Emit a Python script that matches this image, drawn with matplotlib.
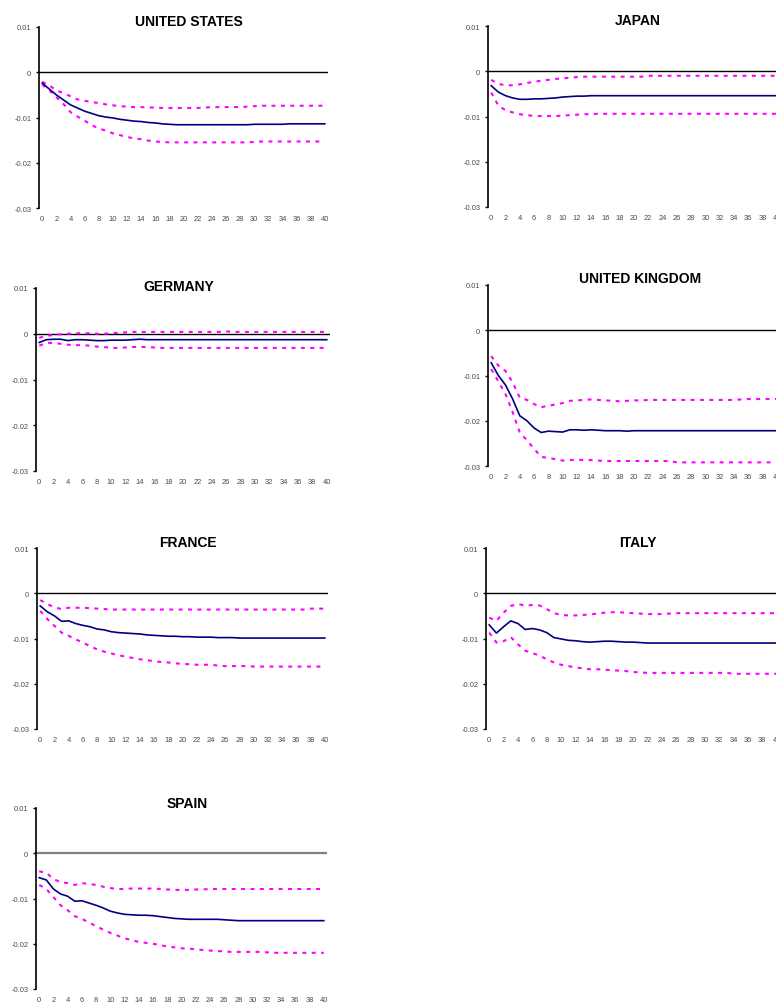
import matplotlib
matplotlib.use("Agg")
import matplotlib.pyplot as plt
import numpy as np

# impulse responses, in units of 0.0001, horizons 0..40
horizon = list(range(41))

us_mid = [-24, -37, -50, -61, -72, -79, -86, -91, -96, -99,
          -101, -104, -106, -108, -109, -111, -112, -114, -115, -116] + [-116] * 10 + \
         [-115] * 5 + [-114] * 6
us_hi = [-21, -29, -40, -46, -53, -60, -63, -66, -68, -71,
         -73, -75, -76, -77, -77, -78, -78, -79, -79, -79,
         -79, -79, -79, -78, -77, -77, -77, -77, -77, -76] + [-75] + [-74] * 10
us_lo = [-27, -40, -55, -70, -88, -98, -107, -117, -124, -129,
         -135, -139, -143, -146, -148, -151, -153, -154, -155, -155] + [-155] * 10 + \
        [-154] + [-153] * 10

jp_mid = [-32, -46, -54, -59, -62, -62, -61, -61, -60, -59,
          -57, -56, -55, -55, -54] + [-54] * 26
jp_hi = [-19, -28, -31, -31, -29, -26, -23, -21, -19, -17,
         -16, -14, -13, -12, -12, -12, -12, -12, -12, -12,
         -12, -12] + [-10] * 19
jp_lo = [-47, -76, -86, -91, -95, -97, -99, -99, -99, -99,
         -98, -97, -96, -95, -95] + [-94] * 26

de_mid = [-19, -13, -12, -12, -15, -13, -13, -14, -15, -15,
          -14, -14, -14, -13, -12] + [-13] * 26
de_hi = [-9, -4, -3, -1, 0, 1, 1, 1, 0, 0,
         1, 2, 3, 4] + [4] * 12 + [5] + [4] * 14
de_lo = [-26, -20, -20, -22, -24, -25, -25, -26, -28, -29,
         -31, -31, -30, -29, -29, -29, -30] + [-31] * 24

uk_mid = [-72, -100, -121, -152, -189, -200, -216, -226, -223, -224,
          -225, -220, -220, -221, -220, -221, -222, -222, -222, -223,
          -222] + [-222] * 20
uk_hi = [-57, -78, -90, -115, -149, -154, -163, -170, -167, -164,
         -161, -156, -155, -154, -153, -154, -155, -156, -157, -156,
         -155, -155] + [-154] * 13 + [-153] + [-152] * 5
uk_lo = [-86, -113, -141, -181, -226, -243, -262, -280, -282, -285,
         -288, -287, -286, -287, -287, -288] + [-289] * 10 + [-292] * 15

fr_mid = [-28, -41, -50, -62, -61, -67, -71, -74, -79, -81,
          -85, -87, -88, -89, -90, -92, -93, -94, -95, -95,
          -96, -96, -97, -97, -97, -98, -98, -98, -99, -99] + [-99] * 11
fr_hi = [-15, -24, -31, -35, -32, -32, -32, -33, -34, -35] + [-36] * 28 + [-34] * 3
fr_lo = [-39, -57, -72, -87, -94, -102, -109, -117, -124, -129,
         -133, -137, -140, -143, -146, -148, -150, -152, -153, -155,
         -156, -157, -158, -158, -158, -160, -161, -161, -161, -161] + [-162] * 11

it_mid = [-70, -88, -74, -61, -67, -80, -78, -81, -87, -98,
          -101, -104, -105, -107, -108, -107, -106, -106, -107, -108,
          -108, -109, -110, -110, -110] + [-110] * 16
it_hi = [-54, -61, -43, -28, -24, -27, -26, -27, -35, -44,
         -48, -49, -49, -48, -47, -45, -43, -42, -42, -43,
         -44, -45, -46, -46, -46, -45, -44] + [-44] * 14
it_lo = [-87, -109, -106, -97, -113, -127, -132, -138, -146, -153,
         -158, -161, -164, -166, -168, -168, -169, -170, -171, -172,
         -174, -175, -176, -176, -176] + [-176] * 9 + [-178] * 7

es_mid = [-54, -59, -79, -90, -95, -106, -105, -110, -115, -121,
          -128, -132, -135, -136, -137, -137, -138, -140, -142, -144,
          -145, -146, -146, -146, -146, -146, -147, -148, -149] + [-149] * 12
es_hi = [-40, -43, -57, -64, -66, -70, -66, -68, -70, -74,
         -77, -79, -79, -78, -78, -78, -78, -79, -80, -81,
         -81, -81, -80, -80] + [-79] * 17
es_lo = [-70, -79, -97, -115, -126, -139, -145, -153, -161, -169,
         -176, -182, -188, -192, -196, -198, -200, -203, -206, -208,
         -210, -211, -212, -214, -215, -216, -217, -218, -218, -218,
         -218, -218, -219, -220, -220] + [-220] * 6

countries = ["UNITED STATES", "JAPAN", "GERMANY", "UNITED KINGDOM",
             "FRANCE", "ITALY", "SPAIN"]
series = [(us_mid, us_hi, us_lo), (jp_mid, jp_hi, jp_lo), (de_mid, de_hi, de_lo),
          (uk_mid, uk_hi, uk_lo), (fr_mid, fr_hi, fr_lo), (it_mid, it_hi, it_lo),
          (es_mid, es_hi, es_lo)]
yticks = [0.01, 0, -0.01, -0.02, -0.03]
ytick_labels = ["0.01", "0", "-0.01", "-0.02", "-0.03"]
xticks = list(range(0, 41, 2))

W, H = 776, 1004
# plot boxes in pixels: left, top, width, height
boxes = [(39, 28, 289, 181), (488, 27, 292, 181), (36, 289, 294, 183),
         (488, 286, 292, 181), (37, 549, 291, 181), (486, 549, 294, 181),
         (36, 809, 291, 181)]
title_x = [0.52, 0.514, 0.485, 0.52, 0.52, 0.517, 0.52]
title_dy = [6, 6, 2, 7, 6, 6, 5]
zero_style = [("black", 1.0)] * 6 + [("#808080", 1.6)]

plt.rcParams['font.family'] = ['Liberation Sans', 'DejaVu Sans']

fig = plt.figure(figsize=(W / 100, H / 100), dpi=100)
fig.patch.set_facecolor("white")

for name, (mid, hi, lo), (l, t, w, h), tx, tdy, (zc, zw) in zip(
        countries, series, boxes, title_x, title_dy, zero_style):
    ax = fig.add_axes([l / W, 1 - (t + h) / H, w / W, h / H])
    ax.set_facecolor("none")
    x = np.array(horizon)
    ax.axhline(0, color=zc, lw=zw, zorder=1)
    ax.plot(x, np.array(hi) * 1e-4, color="#ff00ff", lw=1.5,
            dashes=(1.9, 2.6), dash_capstyle="butt", zorder=2)
    ax.plot(x, np.array(lo) * 1e-4, color="#ff00ff", lw=1.5,
            dashes=(1.9, 2.6), dash_capstyle="butt", zorder=2)
    ax.plot(x, np.array(mid) * 1e-4, color="#000080", lw=1.2, zorder=3)

    ax.set_xlim(-0.45, 40.45)
    ax.set_ylim(-0.03, 0.01)
    for s in ["top", "right", "bottom"]:
        ax.spines[s].set_visible(False)
    ax.spines["left"].set_linewidth(1.2)
    ax.set_yticks(yticks)
    ax.set_yticklabels(ytick_labels)
    ax.set_xticks(xticks)
    ax.tick_params(axis="y", length=2.5, width=1.0, pad=3, labelsize=5.4,
                   labelcolor="#4a4a4a")
    ax.tick_params(axis="x", length=0, pad=5, labelsize=5.4,
                   labelcolor="#4a4a4a")
    ax.text(tx, 1 + tdy / h, name, transform=ax.transAxes, ha="center",
            va="center", fontsize=10, fontweight="bold", color="black")

fig.savefig("out.png", dpi=100)
